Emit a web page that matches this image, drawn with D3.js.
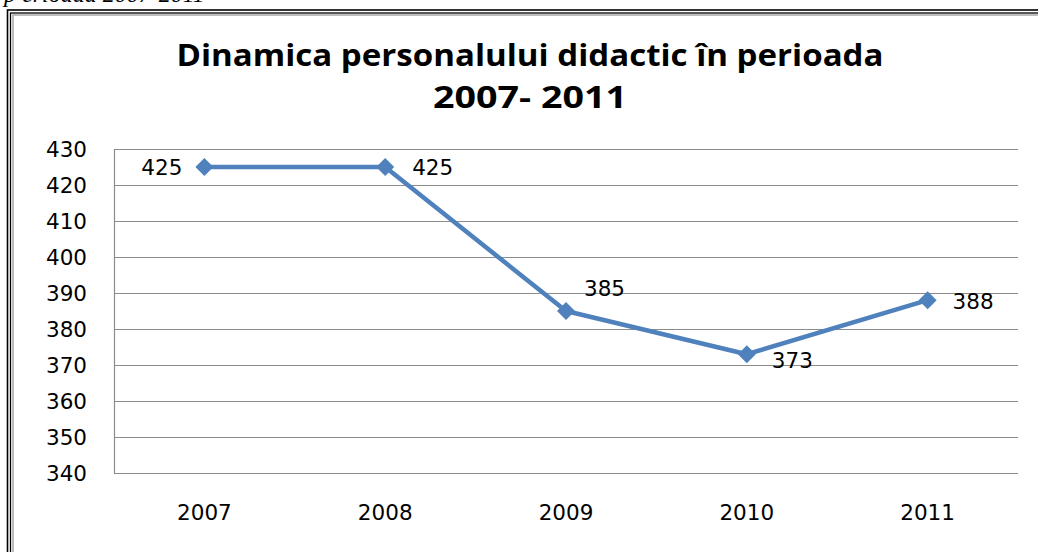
<!DOCTYPE html>
<html>
<head>
<meta charset="utf-8">
<script src="https://cdn.jsdelivr.net/npm/d3@7"></script>
<style>
  body { margin: 0; background: #fff; }
  svg { display: block; }
</style>
</head>
<body>
<div id="zone_graphique"></div>
<script>
var largeur = 1038;
var hauteur = 552;

// donnees du graphique
var annees = ["2007", "2008", "2009", "2010", "2011"];
var effectifs = [425, 425, 385, 373, 388];
var graduations = [340, 350, 360, 370, 380, 390, 400, 410, 420, 430];
var titre = ["Dinamica personalului didactic în perioada", "2007- 2011"];

// marges de la zone de trace
var marge = {haut: 149, droite: 20, bas: 79, gauche: 114},
    width = 1018 - marge.gauche,
    height = 473 - marge.haut;

var svg = d3.select("#zone_graphique")
    .append("svg")
        .attr("width", largeur)
        .attr("height", hauteur);

// texte du document coupe en haut (on n'en voit que le bas)
svg.append("text")
    .attr("x", 4)
    .attr("y", 1.5)
    .attr("font-family", "Liberation Serif")
    .attr("font-style", "italic")
    .attr("font-size", "24px")
    .attr("fill", "#000")
    .text("p erioada 2007-2011");

// cadre double
svg.append("rect").attr("x", 7.5).attr("y", 10).attr("width", 1100).attr("height", 600)
    .attr("fill", "none").attr("stroke", "#000").attr("stroke-width", 1.6);
svg.append("rect").attr("x", 10.5).attr("y", 13).attr("width", 1100).attr("height", 600)
    .attr("fill", "none").attr("stroke", "#000").attr("stroke-width", 1.3);
svg.append("rect").attr("x", 13).attr("y", 15).attr("width", 1100).attr("height", 600)
    .attr("fill", "none").attr("stroke", "#a6a6a6").attr("stroke-width", 1.5);

// titre
svg.append("text")
    .attr("x", 530).attr("y", 66)
    .attr("text-anchor", "middle")
    .attr("font-family", "Open Sans")
    .attr("font-weight", "bold")
    .attr("font-size", "31px")
    .attr("textLength", 707)
    .attr("lengthAdjust", "spacingAndGlyphs")
    .attr("fill", "#000")
    .text(titre[0]);
svg.append("text")
    .attr("x", 530).attr("y", 108)
    .attr("text-anchor", "middle")
    .attr("font-family", "Open Sans")
    .attr("font-weight", "bold")
    .attr("font-size", "31px")
    .attr("textLength", 194)
    .attr("lengthAdjust", "spacingAndGlyphs")
    .attr("fill", "#000")
    .text(titre[1]);

var g = svg.append("g")
    .attr("transform", "translate(" + marge.gauche + "," + marge.haut + ")");

var x = d3.scaleBand()
    .domain(annees)
    .range([0, width]);

var y = d3.scaleLinear()
    .domain([340, 430])
    .range([height, 0]);

// lignes de grille
g.selectAll(".grille")
    .data(graduations)
    .enter()
    .append("line")
        .attr("x1", 0)
        .attr("x2", width)
        .attr("y1", function (d) { return Math.round(y(d)) + 0.5; })
        .attr("y2", function (d) { return Math.round(y(d)) + 0.5; })
        .attr("stroke", "#8c8c8c")
        .attr("stroke-width", 1.2);

// axe vertical
g.append("line")
    .attr("x1", 0.5).attr("x2", 0.5)
    .attr("y1", 0).attr("y2", height)
    .attr("stroke", "#8c8c8c")
    .attr("stroke-width", 1.2);

var yAxis = g.append("g")
    .call(d3.axisLeft(y).tickValues(graduations).tickSize(0).tickPadding(27));
yAxis.select(".domain").remove();
yAxis.selectAll("text")
    .attr("font-family", "DejaVu Sans")
    .attr("font-size", "21.5px")
    .attr("fill", "#000")
    .attr("dy", "0.36em");

var xAxis = g.append("g")
    .attr("transform", "translate(0," + height + ")")
    .call(d3.axisBottom(x).tickSize(0).tickPadding(32));
xAxis.select(".domain").remove();
xAxis.selectAll("text")
    .attr("font-family", "DejaVu Sans")
    .attr("font-size", "21.5px")
    .attr("fill", "#000");

// courbe
var ligne = d3.line()
    .x(function (d, i) { return x(annees[i]) + x.bandwidth() / 2; })
    .y(function (d) { return y(d); });

g.append("path")
    .datum(effectifs)
    .attr("d", ligne)
    .attr("fill", "none")
    .attr("stroke", "#4f81bd")
    .attr("stroke-width", 4.5)
    .attr("stroke-linejoin", "round");

// marqueurs en losange
g.selectAll(".point")
    .data(effectifs)
    .enter()
    .append("path")
        .attr("d", "M0,-9L9,0L0,9L-9,0Z")
        .attr("transform", function (d, i) {
            return "translate(" + (x(annees[i]) + x.bandwidth() / 2) + "," + y(d) + ")";
        })
        .attr("fill", "#4f81bd");

// etiquettes de valeurs
var decalages = [[-22, 8, "end"], [27, 8, "start"], [18, -15, "start"], [25, 14, "start"], [25, 9, "start"]];
g.selectAll(".etiquette")
    .data(effectifs)
    .enter()
    .append("text")
        .attr("x", function (d, i) { return x(annees[i]) + x.bandwidth() / 2 + decalages[i][0]; })
        .attr("y", function (d, i) { return y(d) + decalages[i][1]; })
        .attr("text-anchor", function (d, i) { return decalages[i][2]; })
        .attr("font-family", "DejaVu Sans")
        .attr("font-size", "21.5px")
        .attr("fill", "#000")
        .text(function (d) { return d; });
</script>
</body>
</html>
